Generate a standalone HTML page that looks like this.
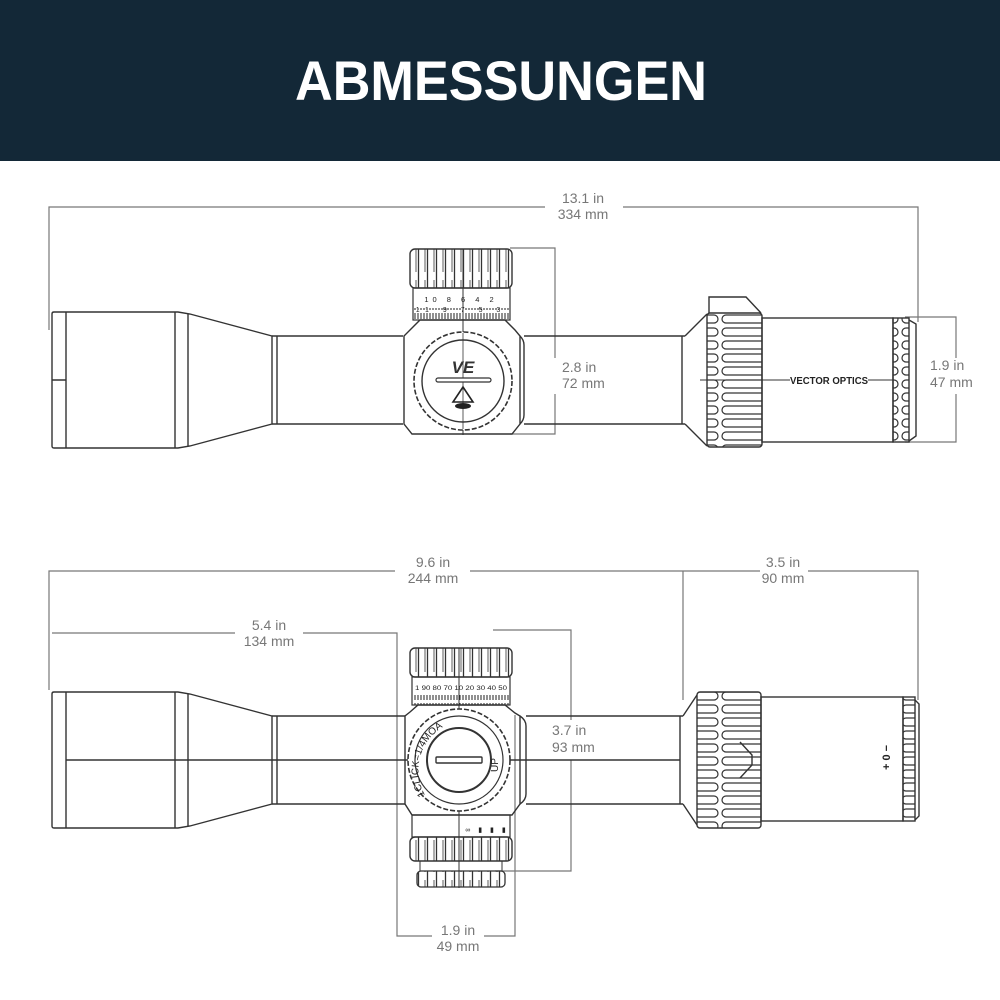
<!DOCTYPE html>
<html><head><meta charset="utf-8"><style>
html,body{margin:0;padding:0;background:#fff;width:1000px;height:1000px;overflow:hidden}
svg{display:block}
.l{fill:none;stroke:#333;stroke-width:1.4}
.d{fill:none;stroke:#777;stroke-width:1.2}
.t{font-family:"Liberation Sans",sans-serif;font-size:14px;fill:#777}
.s{font-family:"Liberation Sans",sans-serif;fill:#222}
</style></head><body>
<svg width="1000" height="1000" viewBox="0 0 1000 1000" xmlns="http://www.w3.org/2000/svg">
<defs>
<pattern id="rib" width="9" height="40" patternUnits="userSpaceOnUse"><line x1="4.5" y1="0" x2="4.5" y2="40" stroke="#333" stroke-width="1.3"/><line x1="2" y1="0" x2="2" y2="32" stroke="#333" stroke-width="0.8"/></pattern>
<pattern id="hr" width="60" height="13" patternUnits="userSpaceOnUse"><rect x="2" y="3" width="56" height="8" rx="4" fill="none" stroke="#333" stroke-width="1.2"/></pattern>
<pattern id="tick" width="3" height="10" patternUnits="userSpaceOnUse"><line x1="1" y1="3" x2="1" y2="10" stroke="#222" stroke-width="1"/></pattern>
<path id="arc" d="M425 795A50 50 0 0 1 455 722"/>
</defs>
<rect x="0" y="0" width="1000" height="161" fill="#132837"/>
<text x="501" y="100" text-anchor="middle" font-family="Liberation Sans,sans-serif" font-weight="bold" font-size="56" fill="#fff" textLength="412" lengthAdjust="spacingAndGlyphs">ABMESSUNGEN</text>

<!-- ===== TOP SCOPE ===== -->
<path class="d" d="M49 330V207H545M623 207H918V322"/>
<text class="t" x="583" y="203" text-anchor="middle">13.1 in</text>
<text class="t" x="583" y="219" text-anchor="middle">334 mm</text>
<path class="d" d="M510 248H555V358M555 394V434H510"/>
<text class="t" x="562" y="372">2.8 in</text>
<text class="t" x="562" y="388">72 mm</text>
<path class="d" d="M905 317H956V358M956 394V442H905"/>
<text class="t" x="930" y="370">1.9 in</text>
<text class="t" x="930" y="387">47 mm</text>
<path class="l" d="M54 312H178L190 314L272 336V424L190 446L178 448H54Q52 448 52 446V314Q52 312 54 312Z"/>
<path class="l" d="M66 312V448M175 312V448M188 314V446M52 380H66"/>
<path class="l" d="M272 336H403M272 424H403M277 336V424"/>
<rect x="410" y="249" width="102" height="39" rx="5" fill="url(#rib)" stroke="#333" stroke-width="1.4"/>
<rect x="413" y="288" width="97" height="32" fill="none" stroke="#333" stroke-width="1.2"/>
<rect x="414" y="308" width="95" height="11" fill="url(#tick)"/>
<text class="s" x="461" y="302" font-size="7.5" text-anchor="middle" letter-spacing="4">10 8 6 4 2</text>
<text class="s" x="461" y="312" font-size="7" text-anchor="middle" letter-spacing="6">11 9 7 5 3</text>
<path class="l" d="M420 320H505L515 330L520 336V424L512 434H412L404 424V336L410 330Z"/>
<path class="l" d="M520 336Q524 340 524 345V415Q524 420 520 424"/>
<line x1="463" y1="249" x2="463" y2="435" stroke="#333" stroke-width="1"/>
<circle cx="463" cy="381" r="49" fill="#fff" stroke="#333" stroke-width="1.6" stroke-dasharray="5 2"/>
<circle cx="463" cy="381" r="41" fill="#fff" stroke="#333" stroke-width="1.4"/>
<line x1="463" y1="333" x2="463" y2="429" stroke="#333" stroke-width="0.8"/>
<rect x="436" y="378" width="55" height="4" rx="2" fill="#fff" stroke="#333" stroke-width="1.2"/>
<text x="463" y="373" text-anchor="middle" font-family="Liberation Sans,sans-serif" font-weight="bold" font-style="italic" font-size="17" fill="#333">VE</text>
<path d="M463 387L453 402H473Z" fill="none" stroke="#222" stroke-width="1.6"/>
<ellipse cx="463" cy="406" rx="8" ry="3" fill="#222"/>
<path class="l" d="M524 336H685M524 424H685M682 336V424M685 336L707 314M685 424L707 446"/>
<path class="l" d="M709 313V297H746L761 313"/>
<rect x="707" y="313" width="55" height="134" rx="3" fill="url(#hr)" stroke="#333" stroke-width="1.4"/>
<rect x="762" y="318" width="131" height="124" fill="none" stroke="#333" stroke-width="1.4"/>
<line x1="700" y1="380" x2="893" y2="380" stroke="#333" stroke-width="1"/>
<rect x="790" y="374" width="78" height="12" fill="#fff"/>
<text class="s" x="829" y="384" font-size="10" font-weight="bold" text-anchor="middle" textLength="78" lengthAdjust="spacingAndGlyphs">VECTOR OPTICS</text>
<rect x="893" y="318" width="16" height="124" fill="url(#hr)" stroke="#333" stroke-width="1.4"/>
<path class="l" d="M909 320L916 324V436L909 441"/>

<!-- ===== BOTTOM SCOPE ===== -->
<path class="d" d="M49 690V571H395M470 571H683V700M683 571H760M808 571H918V700"/>
<text class="t" x="433" y="567" text-anchor="middle">9.6 in</text>
<text class="t" x="433" y="583" text-anchor="middle">244 mm</text>
<text class="t" x="783" y="567" text-anchor="middle">3.5 in</text>
<text class="t" x="783" y="583" text-anchor="middle">90 mm</text>
<path class="d" d="M52 633H235M303 633H397V936H432M484 936H515V715"/>
<text class="t" x="269" y="630" text-anchor="middle">5.4 in</text>
<text class="t" x="269" y="646" text-anchor="middle">134 mm</text>
<text class="t" x="458" y="935" text-anchor="middle">1.9 in</text>
<text class="t" x="458" y="951" text-anchor="middle">49 mm</text>
<path class="d" d="M493 630H571V720M571 760V871H495"/>
<text class="t" x="552" y="735">3.7 in</text>
<text class="t" x="552" y="752">93 mm</text>
<path class="l" d="M54 692H178L190 694L272 716V804L190 826L178 828H54Q52 828 52 826V694Q52 692 54 692Z"/>
<path class="l" d="M66 692V828M175 692V828M188 694V826M66 760H680"/>
<path class="l" d="M272 716H405M272 804H405M277 716V804"/>
<rect x="410" y="648" width="102" height="29" rx="5" fill="url(#rib)" stroke="#333" stroke-width="1.4"/>
<rect x="412" y="677" width="98" height="28" fill="none" stroke="#333" stroke-width="1.2"/>
<rect x="413" y="695" width="96" height="10" fill="url(#tick)"/>
<text class="s" x="461" y="690" font-size="6" text-anchor="middle" textLength="92" lengthAdjust="spacingAndGlyphs">1 90 80 70 10 20 30 40 50</text>
<path class="l" d="M418 705H505L515 713L520 716V804L512 815H412L405 804V716L410 712Z"/>
<path class="l" d="M520 716Q526 720 526 726V794Q526 800 520 804"/>
<line x1="459" y1="648" x2="459" y2="888" stroke="#333" stroke-width="1"/>
<circle cx="459" cy="760" r="51" fill="#fff" stroke="#333" stroke-width="1.6" stroke-dasharray="5 2"/>
<circle cx="459" cy="760" r="44" fill="none" stroke="#333" stroke-width="1.2"/>
<circle cx="459" cy="760" r="32" fill="#fff" stroke="#333" stroke-width="2"/>
<rect x="436" y="757" width="46" height="6" rx="1" fill="#fff" stroke="#333" stroke-width="1.4"/>
<text class="s" font-size="10"><textPath href="#arc">1CLICK=1/4MOA</textPath></text>
<text class="s" x="498" y="772" font-size="10" transform="rotate(-90 498 772)">UP</text>
<rect x="412" y="815" width="98" height="22" fill="none" stroke="#333" stroke-width="1.2"/>
<text class="s" x="487" y="832" font-size="7" text-anchor="middle" letter-spacing="3">∞ ▮ ▮ ▮</text>
<rect x="410" y="837" width="102" height="24" rx="5" fill="url(#rib)" stroke="#333" stroke-width="1.4"/>
<rect x="420" y="861" width="82" height="10" fill="none" stroke="#333" stroke-width="1"/>
<rect x="417" y="871" width="88" height="16" rx="4" fill="url(#rib)" stroke="#333" stroke-width="1.3"/>
<path class="l" d="M526 716H683M526 804H683M680 716V804M683 716L697 695M683 804L697 825"/>
<rect x="697" y="692" width="64" height="136" rx="3" fill="url(#hr)" stroke="#333" stroke-width="1.4"/>
<path class="l" d="M740 742L752 755V765L740 778"/>
<rect x="761" y="697" width="142" height="124" fill="none" stroke="#333" stroke-width="1.4"/>
<text class="s" x="890" y="770" font-size="11" font-weight="bold" transform="rotate(-90 890 770)">+ 0 −</text>
<rect x="903" y="697" width="12" height="124" fill="url(#hr)" stroke="#333" stroke-width="1.4"/>
<path class="l" d="M915 700L919 704V816L915 820"/>
</svg>
</body></html>
